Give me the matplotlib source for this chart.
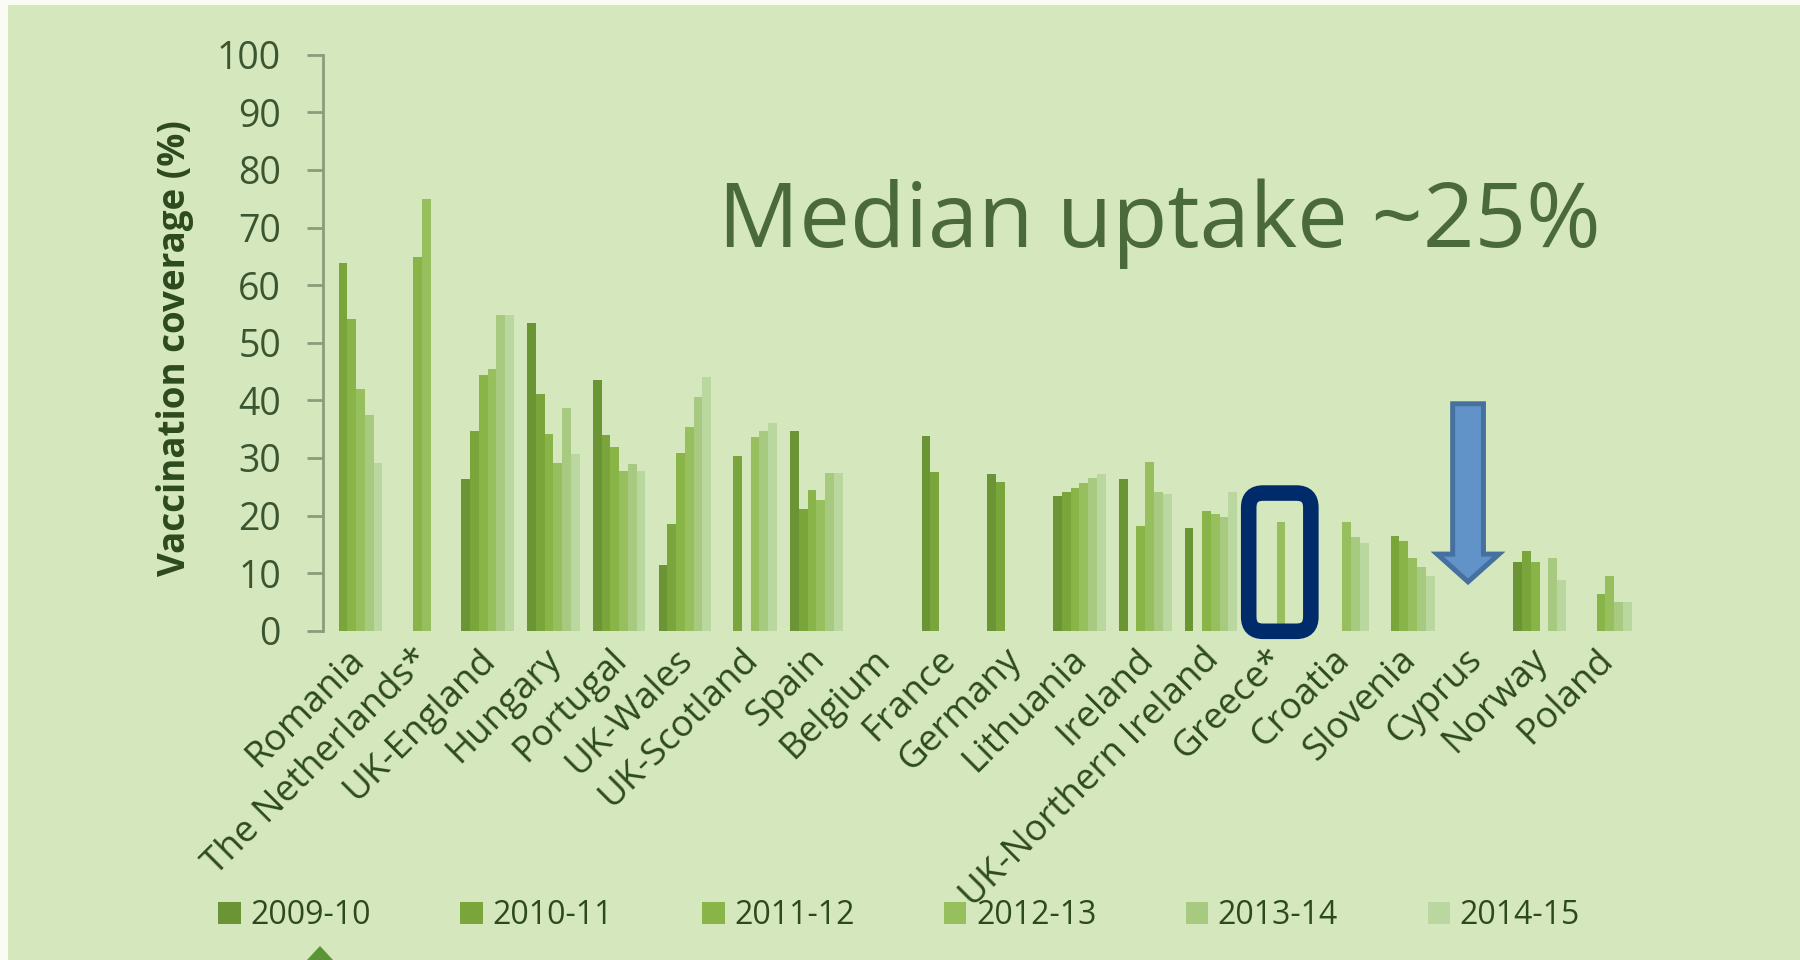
import numpy as np
import matplotlib
matplotlib.use("Agg")
import matplotlib.pyplot as plt
import matplotlib.transforms as mtransforms
from matplotlib.patches import Patch, Polygon, Rectangle, FancyBboxPatch

plt.rcParams['font.family'] = ['Open Sans', 'DejaVu Sans']

nan = np.nan
countries = ['Romania', 'The Netherlands*', 'UK-England', 'Hungary', 'Portugal',
             'UK-Wales', 'UK-Scotland', 'Spain', 'Belgium', 'France', 'Germany',
             'Lithuania', 'Ireland', 'UK-Northern Ireland', 'Greece*', 'Croatia',
             'Slovenia', 'Cyprus', 'Norway', 'Poland']
seasons = ['2009-10', '2010-11', '2011-12', '2012-13', '2013-14', '2014-15']

v2009 = [nan, nan, 26.3, 53.5, 43.5, 11.4, nan, 34.7, nan, 33.8, 27.2, 23.4, 26.3, 17.9, nan, nan, nan, nan, 12.0, nan]
v2010 = [63.8, nan, 34.6, 41.1, 34.0, 18.5, 30.3, 21.1, nan, 27.6, 25.8, 24.0, nan, nan, nan, nan, 16.5, nan, 13.9, nan]
v2011 = [54.2, 64.9, 44.4, 34.2, 31.9, 30.9, nan, 24.5, nan, nan, nan, 24.7, 18.1, 20.8, nan, nan, 15.6, nan, 12.0, 6.4]
v2012 = [41.9, 74.9, 45.4, 29.1, 27.8, 35.4, 33.7, 22.7, nan, nan, nan, 25.7, 29.3, 20.3, 18.8, 18.8, 12.7, nan, nan, 9.5]
v2013 = [37.4, nan, 54.8, 38.6, 28.9, 40.6, 34.6, 27.4, nan, nan, nan, 26.5, 24.0, 19.8, nan, 16.3, 11.0, nan, 12.7, 4.9]
v2014 = [29.2, nan, 54.8, 30.7, 27.8, 44.1, 36.1, 27.3, nan, nan, nan, 27.2, 23.7, 24.0, nan, 15.3, 9.5, nan, 8.8, 4.9]
series = [v2009, v2010, v2011, v2012, v2013, v2014]

colors = ['#6b9535', '#7aa53a', '#89b548', '#98bf5e', '#a8ca80', '#bad79f']
bg = '#d4e7bd'
txt = '#2d4a1e'

fig = plt.figure(figsize=(18, 9.6), dpi=100, facecolor=bg)
ax = fig.add_axes([0.1796, 0.343, 0.7306, 0.6])
ax.set_facecolor(bg)

x = np.arange(len(countries))
w = 0.8 / len(series)
for j, vals in enumerate(series):
    ax.bar(x + (j - 2.5) * w, vals, width=w, color=colors[j], linewidth=0)

ax.set_xlim(-0.5, len(countries) - 0.5)
ax.set_ylim(0, 100)
ax.set_yticks(np.arange(0, 101, 10))
for s in ['top', 'right', 'bottom']:
    ax.spines[s].set_visible(False)
ax.spines['left'].set_color('#8a9c7b')
ax.spines['left'].set_linewidth(2)
ax.tick_params(axis='y', length=11.5, width=2, color='#8a9c7b', labelsize=27,
               labelcolor='#3a5530', pad=19)
ax.set_xticks(x)
ax.set_xticklabels(countries, rotation=45, ha='right', rotation_mode='anchor',
                   fontsize=26.5, color=txt)
ax.tick_params(axis='x', length=0, pad=10)
shift = mtransforms.ScaledTranslation(-0.1, 0.03, fig.dpi_scale_trans)
for lab in ax.get_xticklabels():
    lab.set_transform(lab.get_transform() + shift)
ax.set_ylabel('Vaccination coverage (%)', fontsize=26.5, fontweight='bold', color=txt)
ax.yaxis.set_label_coords(-0.098, 0.49)

# highlight box around Greece
gi = countries.index('Greece*')
box = FancyBboxPatch((gi - 0.426, -0.1), 0.945, 24.0,
                     boxstyle='round,pad=0,rounding_size=0.22', mutation_aspect=11.4,
                     fill=False, edgecolor='#002b6b', linewidth=11.2, clip_on=False, zorder=5)
ax.add_patch(box)

# arrow pointing at Cyprus
ci = countries.index('Cyprus') - 0.09
arrow = Polygon([(ci - 0.234, 39.4), (ci + 0.234, 39.4), (ci + 0.234, 13.3), (ci + 0.47, 13.3),
                 (ci, 8.5), (ci - 0.47, 13.3), (ci - 0.234, 13.3)],
                closed=True, facecolor='#6193c9', edgecolor='#46709f', linewidth=3.6, zorder=5)
ax.add_patch(arrow)

fig.text(717.5 / 1800, 1 - 247 / 960, 'Median uptake ~25%', fontsize=65,
         color='#4b6a3b', ha='left', va='baseline')

handles = [Patch(facecolor=c, edgecolor='none') for c in colors]
fig.legend(handles, seasons, loc='center', bbox_to_anchor=(0.4995, 0.046), ncol=6,
           frameon=False, fontsize=23, handlelength=0.7, handleheight=0.7,
           handletextpad=0.3, columnspacing=2.8, labelcolor=txt)

# page edges and cut-off marker at the bottom
fig.patches.append(Rectangle((0, 1 - 5 / 960), 1, 5 / 960, transform=fig.transFigure,
                             facecolor='#fafbf2', edgecolor='none'))
fig.patches.append(Rectangle((0, 0), 8 / 1800, 1, transform=fig.transFigure,
                             facecolor='#fafbf2', edgecolor='none'))
fig.patches.append(Polygon([(307 / 1800, 0), (320 / 1800, 14 / 960), (333 / 1800, 0)],
                           closed=True, transform=fig.transFigure,
                           facecolor='#5a9436', edgecolor='none'))

fig.savefig('out.png', dpi=100, facecolor=bg)
